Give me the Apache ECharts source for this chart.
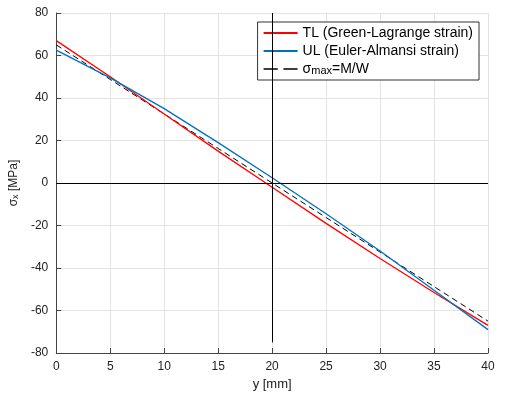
<!DOCTYPE html><html><head><meta charset="utf-8"><script src="https://cdn.jsdelivr.net/npm/echarts@6/dist/echarts.min.js"></script></head><body style="margin:0"><div id="c" style="width:507px;height:401px"></div><script>
const xs=[0,5,10,15,20,25,30,35,40];
const tl=[67,50,32.5,15,-2,-19,-35.5,-51.5,-67];
const ul=[62.5,49.5,35,19,2.5,-14.5,-32,-50.5,-69];
const sm=[65,48.75,32.5,16.25,0,-16.25,-32.5,-48.75,-65];
const z=a=>xs.map((x,i)=>[x,a[i]]);
const f='Liberation Sans';
const ch=echarts.init(document.getElementById('c'));
ch.setOption({animation:false,textStyle:{fontFamily:f},
grid:{left:53,right:19,top:13,bottom:48},
xAxis:{type:'value',min:0,max:40,interval:5,name:'y [mm]',nameLocation:'middle',nameGap:22,nameTextStyle:{fontSize:13,color:'#222'},
axisLine:{onZero:false,lineStyle:{color:'#444'}},axisTick:{inside:true},axisLabel:{color:'#222',fontSize:12},splitLine:{lineStyle:{color:'#e3e3e3'}}},
yAxis:{type:'value',min:-80,max:80,interval:20,name:'{a|σ}{b|x} [MPa]',nameLocation:'middle',nameGap:32,nameTextStyle:{rich:{a:{fontSize:12,color:'#222'},b:{fontSize:9,color:'#222',verticalAlign:'bottom'}},fontSize:12,color:'#222'},
axisLine:{onZero:false,lineStyle:{color:'#444'}},axisTick:{inside:true},axisLabel:{color:'#222',fontSize:12},splitLine:{lineStyle:{color:'#e3e3e3'}}},
legend:{top:22,right:28,orient:'vertical',backgroundColor:'#fff',borderColor:'#333',borderWidth:1,borderRadius:0,padding:[4,6],itemGap:4,itemWidth:34,itemHeight:2,
data:[{name:'TL (Green-Lagrange strain)',icon:'rect'},{name:'UL (Euler-Almansi strain)',icon:'rect'},{name:'σmax=M/W',icon:'path://M0,0H10V1H0ZM14,0H24V1H14Z'}],
formatter:n=>n==='σmax=M/W'?'σ{s|max}=M/W':n,textStyle:{fontSize:14,color:'#000',rich:{s:{fontSize:11,verticalAlign:'bottom'}}}},
series:[
{name:'TL (Green-Lagrange strain)',type:'line',data:z(tl),showSymbol:false,color:'#ff0000',lineStyle:{width:1.3},z:3},
{name:'UL (Euler-Almansi strain)',type:'line',data:z(ul),showSymbol:false,color:'#0072bd',lineStyle:{width:1.3},z:4},
{name:'σmax=M/W',type:'line',data:z(sm),showSymbol:false,color:'#000',lineStyle:{width:1,type:[6,4]},z:2,
markLine:{silent:true,symbol:'none',label:{show:false},lineStyle:{color:'#000',type:'solid',width:1},data:[[{coord:[0,0]},{coord:[40,0]}],[{coord:[20,-75]},{coord:[20,80]}]]}}
]});
</script></body></html>
